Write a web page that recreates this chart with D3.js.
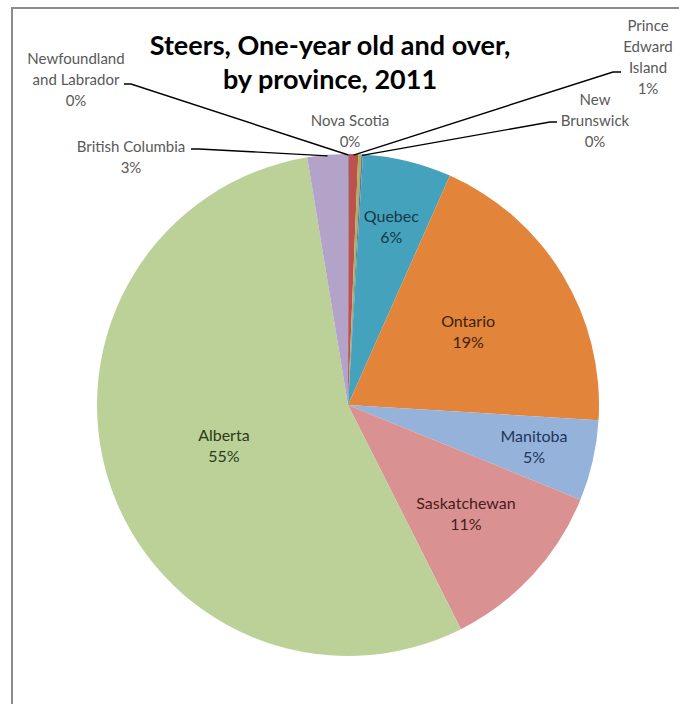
<!DOCTYPE html>
<html>
<head>
<meta charset="utf-8">
<script src="https://cdn.jsdelivr.net/npm/d3@7"></script>
<style>
  html, body { margin: 0; padding: 0; background: #fff; }
  svg { display: block; }
</style>
</head>
<body>
<div id="chart"></div>
<script>
// Data (share of steers, %)
const provinces = [
    "Newfoundland and Labrador", "Prince Edward Island", "Nova Scotia", "New Brunswick",
    "Quebec", "Ontario", "Manitoba", "Saskatchewan", "Alberta", "British Columbia"
];
const shares = [0.05, 0.6, 0.2, 0.1, 5.7, 19.3, 5.2, 11.4, 54.8, 2.6];
const titleLines = ["Steers, One-year old and over,", "by province, 2011"];

// Styles
const sliceColors = [
    "#4f81bd", "#c0504d", "#9bbb59", "#8064a2",
    "#45a2bc", "#e2843a", "#95b2da", "#d99291", "#bbd197", "#b3a3c8"
];
const insideTextColors = {
    "Quebec": "#163848", "Ontario": "#3c220e", "Manitoba": "#1d355c",
    "Saskatchewan": "#4a1b1b", "Alberta": "#2b3b1a"
};

const W = 679, H = 704;
const cx = 348, cy = 405, R = 251;

// Outside label layout: centre x, first-line y, line breaks, leader start
const outside = {
    "Newfoundland and Labrador": { x: 76,  y: 59,  lines: ["Newfoundland", "and Labrador"], lead: [[124, 84], [131, 84]] },
    "Prince Edward Island":      { x: 648, y: 26,  lines: ["Prince", "Edward", "Island"],    lead: [[621, 72], [613, 72]] },
    "Nova Scotia":               { x: 350, y: 121, lines: ["Nova Scotia"],                    lead: null },
    "New Brunswick":             { x: 595, y: 100, lines: ["New", "Brunswick"],               lead: [[557, 122], [550, 122]] },
    "British Columbia":          { x: 131, y: 147, lines: ["British Columbia"],               lead: [[191, 149], [199, 149]] }
};
// Inside labels: radius as a fraction of R
const insideR = { "Quebec": 0.73, "Ontario": 0.56, "Manitoba": 0.76, "Saskatchewan": 0.64, "Alberta": 0.52 };

const lineH = 21;
const total = d3.sum(shares);
const pct = v => Math.round(v / total * 100) + "%";

const svg = d3.select("#chart").append("svg")
    .attr("width", W).attr("height", H)
    .style("font-family", "Lato, 'Open Sans', sans-serif");

// chart frame (top + left edges visible)
svg.append("path")
    .attr("d", `M12,${H} V8 H${W}`)
    .attr("fill", "none")
    .attr("stroke", "#8c8c8c")
    .attr("stroke-width", 2);

const pie = d3.pie().sort(null).value(d => d.v);
const arcs = pie(provinces.map((p, i) => ({ name: p, v: shares[i], i })));
const arc = d3.arc().innerRadius(0).outerRadius(R);

const g = svg.append("g").attr("transform", `translate(${cx},${cy})`);

g.selectAll("path.slice")
    .data(arcs)
    .join("path")
    .attr("class", "slice")
    .attr("d", arc)
    .attr("fill", d => sliceColors[d.data.i]);

// point at a given radius, at the slice mid-angle
const polar = (d, r) => {
    const a = (d.startAngle + d.endAngle) / 2;
    return [cx + r * Math.sin(a), cy - r * Math.cos(a)];
};

// inside labels
arcs.filter(d => insideR[d.data.name]).forEach(d => {
    const [x, y] = polar(d, insideR[d.data.name] * R);
    const t = svg.append("text")
        .attr("text-anchor", "middle")
        .attr("font-size", 16)
        .attr("fill", insideTextColors[d.data.name]);
    [d.data.name, pct(d.data.v)].forEach((s, k) => {
        t.append("tspan").attr("x", x).attr("y", y - lineH / 2 + k * lineH).attr("dy", "0.35em").text(s);
    });
});

// outside labels + leader lines
arcs.filter(d => outside[d.data.name]).forEach(d => {
    const o = outside[d.data.name];
    if (o.lead) {
        const pts = o.lead.concat([polar(d, R - 1)]);
        svg.append("path")
            .attr("d", d3.line()(pts))
            .attr("fill", "none")
            .attr("stroke", "#000")
            .attr("stroke-width", 1.4);
    }
    const t = svg.append("text")
        .attr("text-anchor", "middle")
        .attr("font-size", 15)
        .attr("fill", "#595959");
    o.lines.concat([pct(d.data.v)]).forEach((s, k) => {
        t.append("tspan").attr("x", o.x).attr("y", o.y + k * lineH).attr("dy", "0.35em").text(s);
    });
});

// title
const title = svg.append("text")
    .attr("text-anchor", "middle")
    .attr("font-size", 27)
    .attr("font-weight", "bold")
    .attr("fill", "#000");
titleLines.forEach((s, k) => {
    title.append("tspan").attr("x", 330).attr("y", 55 + k * 34).text(s);
});
</script>
</body>
</html>
